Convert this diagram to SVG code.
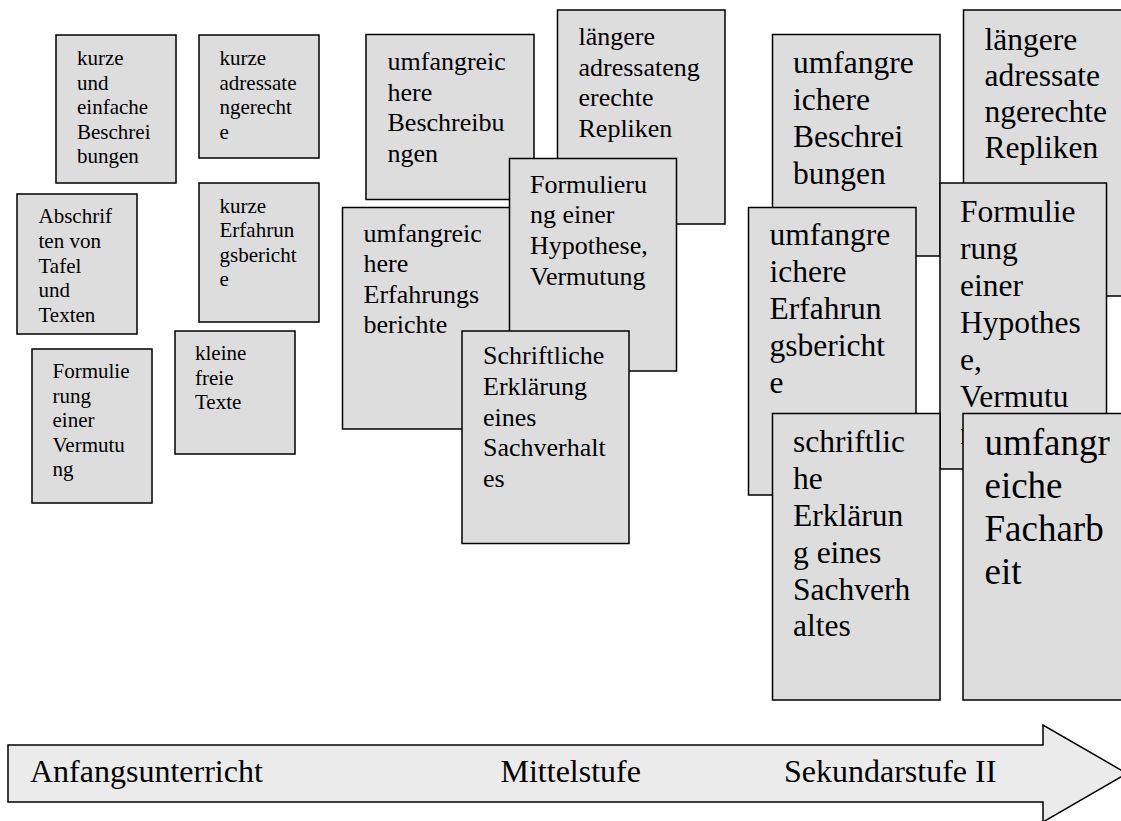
<svg xmlns="http://www.w3.org/2000/svg" width="1121" height="821" viewBox="0 0 1121 821">
<style>
.box{fill:#dddddd;stroke:#000;stroke-width:1.5}
text{font-family:'Liberation Serif','Times New Roman',Times,'DejaVu Serif',serif;fill:#000}
.s{font-size:21px}
.m{font-size:26px}
.l{font-size:31.5px}
.xl{font-size:37px}
.arrow{fill:#ebebeb;stroke:#000;stroke-width:1.5}
.a{font-size:32px}
</style>
<rect width="1121" height="821" fill="#fff"/>
<g id="timeline">
<polygon class="arrow" points="8,745 1043,745 1043,725 1127,773.5 1043,822 1043,802 8,802"/>
<text class="a" font-family="Liberation Serif, serif" x="30" y="782">Anfangsunterricht</text>
<text class="a" font-family="Liberation Serif, serif" x="500.5" y="782">Mittelstufe</text>
<text class="a" font-family="Liberation Serif, serif" x="784" y="782">Sekundarstufe II</text>
</g>
<g id="connectors"></g>
<g id="n1"><rect class="box" x="56" y="35" width="120" height="148"/>
<text class="s" font-family="Liberation Serif, serif"><tspan x="77" y="65">kurze</tspan><tspan x="77" y="89.5">und</tspan><tspan x="77" y="114">einfache</tspan><tspan x="77" y="138.5">Beschrei</tspan><tspan x="77" y="163">bungen</tspan></text></g>
<g id="n2"><rect class="box" x="199" y="35" width="120" height="123"/>
<text class="s" font-family="Liberation Serif, serif"><tspan x="219.5" y="65">kurze</tspan><tspan x="219.5" y="89.5">adressate</tspan><tspan x="219.5" y="114">ngerecht</tspan><tspan x="219.5" y="138.5">e</tspan></text></g>
<g id="n3"><rect class="box" x="17" y="194" width="120" height="140"/>
<text class="s" font-family="Liberation Serif, serif"><tspan x="38.5" y="223.3">Abschrif</tspan><tspan x="38.5" y="248">ten von</tspan><tspan x="38.5" y="272.5">Tafel</tspan><tspan x="38.5" y="297">und</tspan><tspan x="38.5" y="321.5">Texten</tspan></text></g>
<g id="n4"><rect class="box" x="199" y="183" width="120" height="139"/>
<text class="s" font-family="Liberation Serif, serif"><tspan x="219.5" y="212.7">kurze</tspan><tspan x="219.5" y="237.2">Erfahrun</tspan><tspan x="219.5" y="261.7">gsbericht</tspan><tspan x="219.5" y="286.2">e</tspan></text></g>
<g id="n5"><rect class="box" x="32" y="349" width="120" height="154"/>
<text class="s" font-family="Liberation Serif, serif"><tspan x="52.5" y="378.3">Formulie</tspan><tspan x="52.5" y="402.8">rung</tspan><tspan x="52.5" y="427.3">einer</tspan><tspan x="52.5" y="451.8">Vermutu</tspan><tspan x="52.5" y="476.3">ng</tspan></text></g>
<g id="n6"><rect class="box" x="175" y="331" width="120" height="123"/>
<text class="s" font-family="Liberation Serif, serif"><tspan x="195" y="360">kleine</tspan><tspan x="195" y="384.5">freie</tspan><tspan x="195" y="409">Texte</tspan></text></g>
<g id="n8"><rect class="box" x="557.5" y="10" width="167.5" height="214"/>
<text class="m" font-family="Liberation Serif, serif"><tspan x="578.5" y="45">längere</tspan><tspan x="578.5" y="76">adressateng</tspan><tspan x="578.5" y="106">erechte</tspan><tspan x="578.5" y="136.7">Repliken</tspan></text></g>
<g id="n7"><rect class="box" x="366" y="34.5" width="168" height="165"/>
<text class="m" font-family="Liberation Serif, serif"><tspan x="387.5" y="70">umfangreic</tspan><tspan x="387.5" y="100.5">here</tspan><tspan x="387.5" y="131">Beschreibu</tspan><tspan x="387.5" y="161.5">ngen</tspan></text></g>
<g id="n9"><rect class="box" x="342.5" y="207.5" width="168" height="221.5"/>
<text class="m" font-family="Liberation Serif, serif"><tspan x="363.5" y="241.7">umfangreic</tspan><tspan x="363.5" y="272">here</tspan><tspan x="363.5" y="302.5">Erfahrungs</tspan><tspan x="363.5" y="333">berichte</tspan></text></g>
<g id="n10"><rect class="box" x="509.5" y="158.5" width="167" height="212.5"/>
<text class="m" font-family="Liberation Serif, serif"><tspan x="530" y="192.7">Formulieru</tspan><tspan x="530" y="223">ng einer</tspan><tspan x="530" y="254">Hypothese,</tspan><tspan x="530" y="285">Vermutung</tspan></text></g>
<g id="n11"><rect class="box" x="462" y="331" width="167" height="212.5"/>
<text class="m" font-family="Liberation Serif, serif"><tspan x="483" y="364">Schriftliche</tspan><tspan x="483" y="395">Erklärung</tspan><tspan x="483" y="425.7">eines</tspan><tspan x="483" y="456.3">Sachverhalt</tspan><tspan x="483" y="486.7">es</tspan></text></g>
<g id="n12"><rect class="box" x="772.5" y="34.5" width="167.5" height="221.5"/>
<text class="l" font-family="Liberation Serif, serif"><tspan x="793" y="73.3">umfangre</tspan><tspan x="793" y="110.3">ichere</tspan><tspan x="793" y="147.3">Beschrei</tspan><tspan x="793" y="184.3">bungen</tspan></text></g>
<g id="n13"><rect class="box" x="963.5" y="10" width="168" height="286"/>
<text class="l" font-family="Liberation Serif, serif"><tspan x="984.5" y="50">längere</tspan><tspan x="984.5" y="86">adressate</tspan><tspan x="984.5" y="122">ngerechte</tspan><tspan x="984.5" y="158.3">Repliken</tspan></text></g>
<g id="n14"><rect class="box" x="748.5" y="207.5" width="167.5" height="287.5"/>
<text class="l" font-family="Liberation Serif, serif"><tspan x="769.5" y="245">umfangre</tspan><tspan x="769.5" y="282">ichere</tspan><tspan x="769.5" y="319">Erfahrun</tspan><tspan x="769.5" y="356">gsbericht</tspan><tspan x="769.5" y="393">e</tspan></text></g>
<g id="n15"><rect class="box" x="940" y="183" width="166.5" height="286"/>
<text class="l" font-family="Liberation Serif, serif"><tspan x="960" y="221.7">Formulie</tspan><tspan x="960" y="258.5">rung</tspan><tspan x="960" y="295.5">einer</tspan><tspan x="960" y="332.5">Hypothes</tspan><tspan x="960" y="369.5">e,</tspan><tspan x="960" y="406.5">Vermutu</tspan><tspan x="960" y="443.5">ng</tspan></text></g>
<g id="n16"><rect class="box" x="772.5" y="413.5" width="167.5" height="286.5"/>
<text class="l" font-family="Liberation Serif, serif"><tspan x="793" y="451.7">schriftlic</tspan><tspan x="793" y="488.5">he</tspan><tspan x="793" y="525.5">Erklärun</tspan><tspan x="793" y="562.5">g eines</tspan><tspan x="793" y="599.5">Sachverh</tspan><tspan x="793" y="636">altes</tspan></text></g>
<g id="n17"><rect class="box" x="963" y="413.5" width="168" height="286.5"/>
<text class="xl" font-family="Liberation Serif, serif"><tspan x="984.5" y="454.5">umfangr</tspan><tspan x="984.5" y="497.5">eiche</tspan><tspan x="984.5" y="540.5">Facharb</tspan><tspan x="984.5" y="583.5">eit</tspan></text></g>
</svg>
